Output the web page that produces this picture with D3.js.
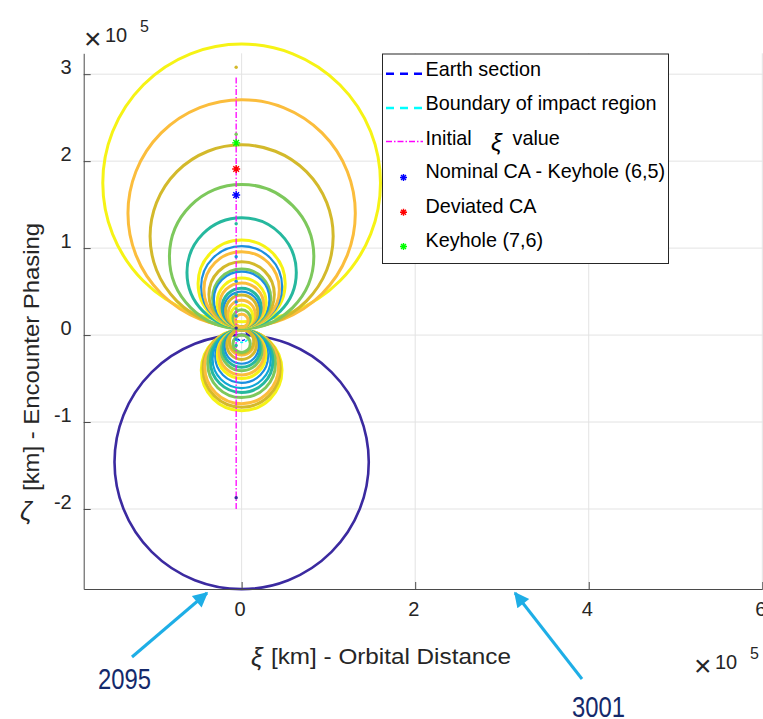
<!DOCTYPE html>
<html>
<head>
<meta charset="utf-8">
<script src="https://cdn.jsdelivr.net/npm/d3@7"></script>
<style>
  body { margin: 0; background: #fff; }
  svg { display: block; }
  text { font-family: "Liberation Sans", Arial, sans-serif; }
</style>
</head>
<body>
<svg id="chart" width="763" height="719"></svg>
<script>
// all lengths in units of 1e5 km (axis multiplier)
var xTicks = [0, 2, 4, 6];
var yTicks = [-2, -1, 0, 1, 2, 3];

// circles above the axis: centre zeta, radius, parula shade index
var upperCentre = [1.75, 1.40, 1.135, 0.902, 0.72, 0.592, 0.557, 0.525, 0.467, 0.425, 0.41, 0.373, 0.345, 0.315, 0.295, 0.275, 0.245, 0.218, 0.19, 0.165];
var upperRadius = [1.60, 1.31, 1.055, 0.832, 0.63, 0.502, 0.467, 0.435, 0.377, 0.335, 0.32, 0.283, 0.255, 0.225, 0.205, 0.185, 0.155, 0.128, 0.10, 0.075];
var upperShade  = [7, 6, 5, 4, 3, 7, 1, 6, 5, 4, 1, 7, 6, 3, 1, 5, 6, 7, 4, 6];

// circles below
var lowerCentre = [-0.405, -0.385, -0.365, -0.33, -0.30, -0.275, -0.245, -0.22, -0.20, -0.175, -0.155, -0.135, -0.11, -0.085, -0.07, -0.10];
var lowerRadius = [0.465, 0.445, 0.425, 0.39, 0.36, 0.335, 0.305, 0.28, 0.26, 0.235, 0.215, 0.195, 0.17, 0.145, 0.14, 0.10];
var lowerShade  = [7, 5, 6, 4, 3, 2, 1, 7, 6, 4, 3, 1, 5, 6, 5, 4];

// first (largest) circle
var bigCentre = -1.46;
var bigRadius = 1.465;

// earth section and impact boundary radii
var earthRadius = 0.0637;
var impactRadius = 0.085;

// initial xi line
var xiInitial = -0.063;
var xiLineZeta = [-2.0, 2.97];

// small points along the initial xi line
var dotZeta  = [3.08, 2.31, 1.28, 0.90, 0.62, 0.47, 0.38, 0.30, 0.22, 0.15, 0.08, -0.05, -0.12, -1.87];
var dotShade = [5, 4, 3, 1, 1, 3, 1, 4, 1, 6, 0, 1, 3, 0];

// highlighted points
var starNames = ["Nominal CA - Keyhole (6,5)", "Deviated CA", "Keyhole (7,6)"];
var starZeta  = [1.61, 1.91, 2.21];

var parula = ["#3b2aa0", "#1b8fe0", "#10a7d6", "#26b89e", "#7dc85c", "#d3b92b", "#fbbd3c", "#f6f315"];
var starColour = ["#0000ff", "#ff0000", "#00ff00"];
var greek = "DejaVu Serif, Liberation Serif, serif";

var svg = d3.select("#chart");

var x = d3.scaleLinear().domain([-1.82, 6.0]).range([83.7, 762.3]);
var y = d3.scaleLinear().domain([-2.92, 3.24]).range([589, 53.3]);
var rpx = function (r) { return x(r) - x(0); };

// grid
var grid = svg.append("g").attr("stroke", "#e3e3e3").attr("stroke-width", 1);
grid.selectAll(".gx").data(xTicks).join("line")
  .attr("x1", d => x(d)).attr("x2", d => x(d)).attr("y1", y(-2.92)).attr("y2", y(3.24));
grid.selectAll(".gy").data(yTicks).join("line")
  .attr("x1", x(-1.82)).attr("x2", 763).attr("y1", d => y(d)).attr("y2", d => y(d));

var plot = svg.append("g").attr("fill", "none");

// earth section / impact boundary
plot.append("circle").attr("cx", x(0)).attr("cy", y(0)).attr("r", rpx(earthRadius))
  .attr("stroke", "#0000ff").attr("stroke-width", 1.5).attr("stroke-dasharray", "3,2");
plot.append("circle").attr("cx", x(0)).attr("cy", y(0)).attr("r", rpx(impactRadius))
  .attr("stroke", "#00ffff").attr("stroke-width", 1.5).attr("stroke-dasharray", "3,2");

// big first circle
plot.append("circle").attr("cx", x(0)).attr("cy", y(bigCentre)).attr("r", rpx(bigRadius))
  .attr("stroke", parula[0]).attr("stroke-width", 2.6);

plot.selectAll(".lower").data(lowerCentre).join("circle")
  .attr("cx", x(0)).attr("cy", d => y(d)).attr("r", (d, i) => rpx(lowerRadius[i]))
  .attr("stroke", (d, i) => parula[lowerShade[i]])
  .attr("stroke-width", (d, i) => lowerShade[i] < 3 ? 2.2 : 3);

plot.selectAll(".upper").data(upperCentre).join("circle")
  .attr("cx", x(0)).attr("cy", d => y(d)).attr("r", (d, i) => rpx(upperRadius[i]))
  .attr("stroke", (d, i) => parula[upperShade[i]])
  .attr("stroke-width", (d, i) => upperShade[i] < 3 ? 2.2 : 3);

// initial xi value line
plot.append("line")
  .attr("x1", x(xiInitial)).attr("x2", x(xiInitial))
  .attr("y1", y(xiLineZeta[0])).attr("y2", y(xiLineZeta[1]))
  .attr("stroke", "#ff00ff").attr("stroke-width", 1.3).attr("stroke-dasharray", "6,2,1.5,2");

svg.append("g").selectAll("circle").data(dotZeta).join("circle")
  .attr("cx", x(xiInitial)).attr("cy", d => y(d)).attr("r", 1.7)
  .attr("fill", (d, i) => parula[dotShade[i]]);

function star(g, cx, cy, s, colour) {
  var p = "";
  for (var k = 0; k < 4; k++) {
    var a = k * Math.PI / 4;
    p += "M" + (cx - s * Math.cos(a)) + "," + (cy - s * Math.sin(a)) + "L" + (cx + s * Math.cos(a)) + "," + (cy + s * Math.sin(a));
  }
  g.append("path").attr("d", p).attr("stroke", colour).attr("stroke-width", 1.4).attr("fill", "none");
}
var stars = svg.append("g");
starZeta.forEach(function (z, i) { star(stars, x(xiInitial), y(z), 4, starColour[i]); });

// axes
var yAxis = d3.axisLeft(y).tickValues(yTicks).tickSizeInner(-7).tickSizeOuter(0).tickPadding(12)
  .tickFormat(d3.format("d"));
var gy = svg.append("g").attr("transform", "translate(" + x(-1.82) + ",0)").call(yAxis);
gy.select(".domain").attr("stroke", "#4a4a4a");
gy.selectAll(".tick line").attr("stroke", "#4a4a4a");
gy.selectAll(".tick text").attr("font-size", 20).attr("fill", "#262626").attr("dy", "-0.03em")
  .text(d => d < 0 ? "-" + Math.abs(d) : d);

var xAxis = d3.axisBottom(x).tickValues(xTicks).tickSizeInner(-7).tickSizeOuter(0).tickPadding(13)
  .tickFormat(d3.format("d"));
var gx = svg.append("g").attr("transform", "translate(0," + y(-2.92) + ")").call(xAxis);
gx.select(".domain").attr("stroke", "#4a4a4a");
gx.selectAll(".tick text").attr("font-size", 20).attr("fill", "#262626").attr("dx", -2);
gx.selectAll(".tick line").attr("stroke", "#4a4a4a");

// multipliers
function multiplier(px, py) {
  var g = svg.append("g").attr("fill", "#262626");
  g.append("text").attr("x", px).attr("y", py + 2).attr("font-size", 30)
    .attr("font-family", "DejaVu Sans, sans-serif").attr("font-weight", 200).text("\u00d7");
  g.append("text").attr("x", px + 21).attr("y", py - 5).attr("font-size", 20).text("10");
  g.append("text").attr("x", px + 56).attr("y", py - 15).attr("font-size", 16).text("5");
}
multiplier(84, 47);
multiplier(694, 674);

// axis labels
svg.append("text").attr("x", 251).attr("y", 666)
  .attr("font-family", greek).attr("font-style", "italic").attr("font-size", 26).attr("fill", "#262626").text("\u03be");
svg.append("text").attr("x", 271).attr("y", 664).attr("font-size", 22).attr("fill", "#262626")
  .attr("textLength", 240).attr("lengthAdjust", "spacingAndGlyphs").text("[km] - Orbital Distance");

svg.append("text").attr("x", 20).attr("y", 520)
  .attr("font-family", greek).attr("font-style", "italic").attr("font-size", 26).attr("fill", "#262626").text("\u03b6");
svg.append("text").attr("transform", "translate(39,357) rotate(-90)")
  .attr("text-anchor", "middle").attr("font-size", 22).attr("fill", "#262626")
  .attr("textLength", 268).attr("lengthAdjust", "spacingAndGlyphs").text("[km] - Encounter Phasing");

// legend
var lg = svg.append("g");
lg.append("rect").attr("x", 382.5).attr("y", 54).attr("width", 286).attr("height", 209.5)
  .attr("fill", "#fff").attr("stroke", "#262626").attr("stroke-width", 1);
var rowBase = [75.7, 110, 144.5, 178, 212.7, 247];
var legendText = ["Earth section", "Boundary of impact region", "Initial", starNames[0], starNames[1], starNames[2]];
lg.selectAll(".lt").data(legendText).join("text")
  .attr("x", 425.5).attr("y", (d, i) => rowBase[i]).attr("font-size", 19.8).attr("fill", "#000").text(d => d);
lg.append("text").attr("x", 491).attr("y", 151).attr("font-family", greek).attr("font-style", "italic")
  .attr("font-size", 24).attr("fill", "#000").text("\u03be");
lg.append("text").attr("x", 512.5).attr("y", 144.5).attr("font-size", 19.8).attr("fill", "#000").text("value");
lg.append("line").attr("x1", 386).attr("x2", 423).attr("y1", rowBase[0] - 2).attr("y2", rowBase[0] - 2)
  .attr("stroke", "#0000ff").attr("stroke-width", 2.5).attr("stroke-dasharray", "8,6");
lg.append("line").attr("x1", 386).attr("x2", 423).attr("y1", rowBase[1] - 2).attr("y2", rowBase[1] - 2)
  .attr("stroke", "#00ffff").attr("stroke-width", 2.5).attr("stroke-dasharray", "8,6");
lg.append("line").attr("x1", 386).attr("x2", 423).attr("y1", rowBase[2] - 3).attr("y2", rowBase[2] - 3)
  .attr("stroke", "#ff00ff").attr("stroke-width", 1.3).attr("stroke-dasharray", "6,2,1.5,2");
starColour.forEach(function (c, i) { star(lg, 403.5, rowBase[3 + i] - 0.5, 3.5, c); });

// annotations
var defs = svg.append("defs");
defs.append("marker").attr("id", "head").attr("viewBox", "0 0 10 10")
  .attr("refX", 9).attr("refY", 5).attr("markerWidth", 17).attr("markerHeight", 15)
  .attr("markerUnits", "userSpaceOnUse").attr("orient", "auto")
  .append("path").attr("d", "M0,0L10,5L0,10z").attr("fill", "#1eaee6");

var arrows = [
  { from: [132, 657], to: [207, 593], label: "2095", lx: 98, ly: 689 },
  { from: [582, 679], to: [515, 593], label: "3001", lx: 572, ly: 717 }
];
var ann = svg.append("g");
ann.selectAll("line").data(arrows).join("line")
  .attr("x1", d => d.from[0]).attr("y1", d => d.from[1])
  .attr("x2", d => d.to[0]).attr("y2", d => d.to[1])
  .attr("stroke", "#1eaee6").attr("stroke-width", 3).attr("marker-end", "url(#head)");
ann.selectAll("text").data(arrows).join("text")
  .attr("x", d => d.lx).attr("y", d => d.ly)
  .attr("font-size", 30).attr("fill", "#14296b")
  .attr("textLength", 53).attr("lengthAdjust", "spacingAndGlyphs").text(d => d.label);
</script>
</body>
</html>
